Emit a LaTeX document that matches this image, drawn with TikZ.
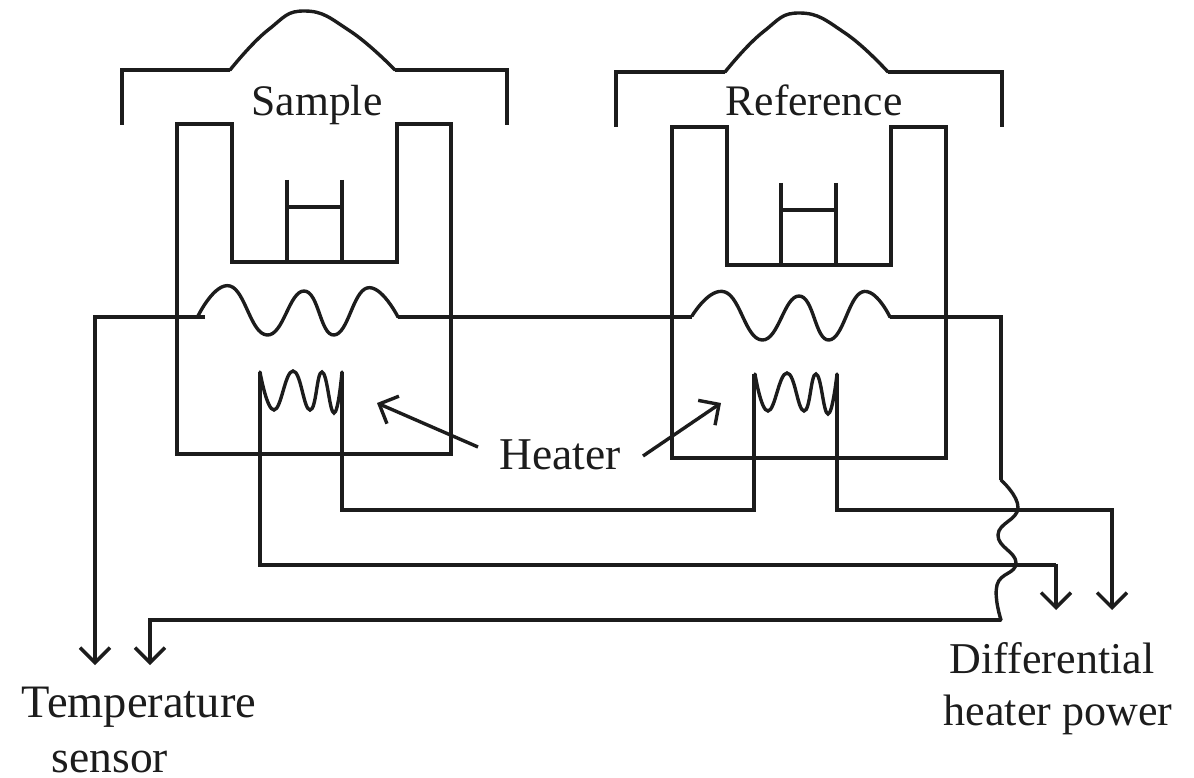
\documentclass[tikz,border=0pt]{standalone}
\usepackage{fontspec}
\setmainfont{Liberation Serif}
\usetikzlibrary{arrows.meta}
\definecolor{ink}{HTML}{1C1C1C}
\tikzset{
  wire/.style={draw=ink,line width=3.4pt,line join=miter},
  arrowwire/.style={wire,-{Straight Barb[length=15pt,width=30pt,line width=3.4pt]}},
  lbl/.style={font=\fontsize{43.6}{44}\selectfont,text=ink,inner sep=0pt,anchor=base},
  lblb/.style={font=\fontsize{45.5}{46}\selectfont,text=ink,inner sep=0pt,anchor=base},
  lblc/.style={font=\fontsize{44}{44}\selectfont,text=ink,inner sep=0pt,anchor=base},
  curve/.style={wire,smooth,tension=0.8,line cap=round},
}
\begin{document}
\begin{tikzpicture}[x=1pt,y=-1pt]
\useasboundingbox (0,0) rectangle (1194,778);
% Sample assembly
\draw[wire] (122,125) -- (122,70) -- (230,70);
\draw[curve] plot coordinates {(230,70) (268,30) (305,11) (350,31) (395,70)};
\draw[wire] (395,70) -- (507,70) -- (507,125);
\draw[wire] (232,124) -- (177,124) -- (177,454) -- (451,454) -- (451,124) -- (397,124) -- (397,262) -- (232,262) -- cycle;
\draw[wire] (287,180) -- (287,262) (342,180) -- (342,262) (287,207) -- (342,207);
% Reference assembly
\draw[wire] (616,127) -- (616,72) -- (725,72);
\draw[curve] plot coordinates {(725,72) (763,32) (800,13) (845,33) (888,72)};
\draw[wire] (888,72) -- (1002,72) -- (1002,127);
\draw[wire] (727,127) -- (672,127) -- (672,458) -- (946,458) -- (946,127) -- (891,127) -- (891,265) -- (727,265) -- cycle;
\draw[wire] (781,183) -- (781,265) (836,183) -- (836,265) (781,210) -- (836,210);
% Sensor coils
\draw[curve] plot coordinates {(198,316) (230,286) (267,335) (304,291) (334,335) (367,288) (398,317)};
\draw[curve] plot coordinates {(692,316) (725,292) (762,340) (799,296) (829,340) (862,292) (890,317)};
% Heater coils
\draw[curve] plot coordinates {(260,372) (274,410) (293,371) (310,410) (322,372) (334,413) (342,372)};
\draw[curve] plot coordinates {(755,374) (768,411) (787,373) (804,411) (816,374) (828,414) (837,374)};
% Wires
\coordinate (tsL) at (95,665);
\coordinate (tsR) at (150,665);
\coordinate (hpL) at (1056,610);
\coordinate (hpR) at (1112,610);
\draw[arrowwire] (205,317) -- (95,317) -- (tsL);
\draw[wire] (398,317) -- (692,317);
\draw[wire] (890,317) -- (1001,317) -- (1001,480);
\draw[curve] plot coordinates {(1001,480) (1018,508) (998,535) (1016,563) (997,585) (1001,620)};
\draw[arrowwire] (1001,620) -- (150,620) -- (tsR);
\draw[wire] (260,372) -- (260,565) -- (1056,565);
\draw[arrowwire] (1056,564) -- (hpL);
\draw[wire] (342,372) -- (342,510) -- (754,510) -- (754,374);
\draw[arrowwire] (837,374) -- (837,510) -- (1112,510) -- (hpR);
% Labels
\node[lbl] (sample) at (317,116) {Sample};
\node[lbl] (reference) at (814,116) {Reference};
\node[lblb] (heater) at (560,469) {Heater};
\node[lblc] (diff) at (1052,673) {Differential};
\node[lblc] (hpower) at (1058,725) {heater power};
\node[lblb,font=\fontsize{46.5}{47}\selectfont] (temp) at (139,717) {Temperature};
\node[lblb] (sensor) at (110,772) {sensor};
\coordinate (hL) at (478,447);
\coordinate (hLt) at (377,403);
\coordinate (hR) at (643,456);
\coordinate (hRt) at (721,403);
\draw[arrowwire] (hL) -- (hLt);
\draw[arrowwire] (hR) -- (hRt);
\end{tikzpicture}
\end{document}
